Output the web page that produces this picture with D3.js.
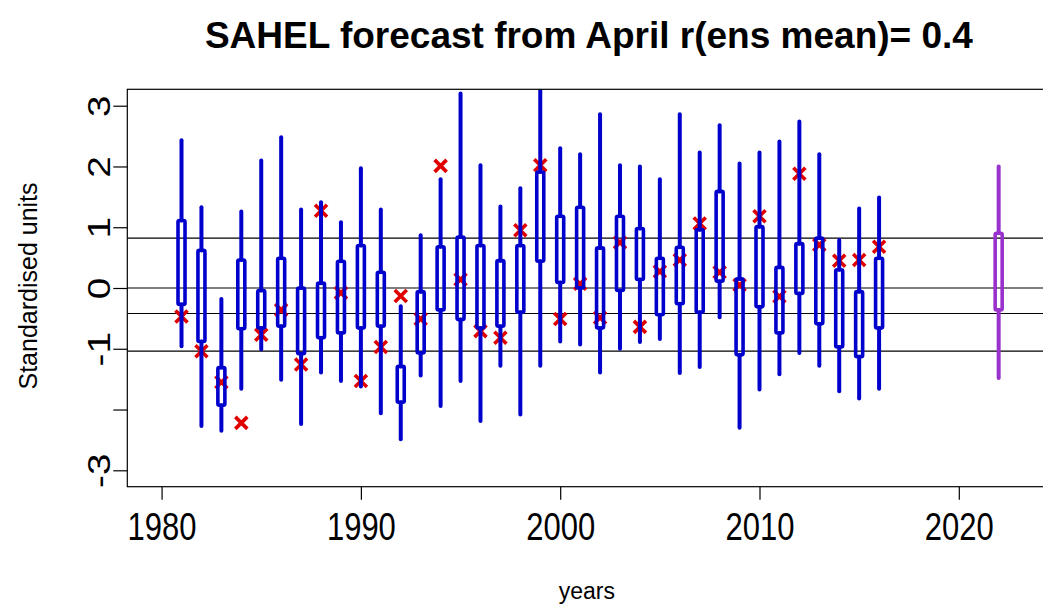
<!DOCTYPE html>
<html>
<head>
<meta charset="utf-8">
<script src="https://cdn.jsdelivr.net/npm/d3@7"></script>
<style>
  html, body { margin: 0; padding: 0; background: #fff; }
  svg { display: block; font-family: "Liberation Sans", Arial, sans-serif; }
</style>
</head>
<body>
<svg id="chart" width="1043" height="605"></svg>
<script>
// Hindcast years and ensemble summaries (standardised units)
const years      = [1981,1982,1983,1984,1985,1986,1987,1988,1989,1990,1991,1992,1993,1994,1995,1996,1997,1998,
                    1999,2000,2001,2002,2003,2004,2005,2006,2007,2008,2009,2010,2011,2012,2013,2014,2015,2016];
const ensMax     = [2.43,1.33,-0.18,1.26,2.10,2.48,1.29,1.41,1.08,1.97,1.29,-0.30,0.87,1.79,3.20,2.02,1.34,1.64,
                    3.40,2.30,2.20,2.86,2.02,2.00,1.79,2.86,2.23,2.68,2.05,2.23,2.41,2.74,2.20,0.79,1.31,1.49];
const ensUpper   = [1.11,0.62,-1.31,0.46,-0.04,0.49,0.00,0.08,0.44,0.70,0.26,-1.29,-0.06,0.68,0.84,0.70,0.45,0.70,
                    1.91,1.18,1.33,0.66,1.18,0.98,0.49,0.67,0.96,1.59,0.15,1.01,0.34,0.73,0.82,0.30,-0.06,0.49];
const ensLower   = [-0.27,-0.88,-1.93,-0.67,-0.66,-0.63,-1.08,-0.82,-0.74,-0.66,-0.63,-1.88,-1.07,-0.36,-0.52,-0.66,-0.63,-0.40,
                    0.44,0.09,0.00,-0.66,-0.04,0.14,-0.44,-0.26,-0.40,0.11,-1.10,-0.31,-0.74,-0.09,-0.59,-0.97,-1.13,-0.66];
const ensMin     = [-0.96,-2.27,-2.35,-1.66,-1.01,-1.51,-2.24,-1.39,-1.53,-1.62,-2.06,-2.49,-1.44,-1.94,-1.53,-2.19,-1.28,-2.08,
                    -1.28,-0.88,-0.93,-1.39,-1.00,-0.89,-0.84,-1.40,-1.30,-0.48,-2.30,-1.67,-1.42,-1.07,-1.28,-1.70,-1.82,-1.66];
const observed   = [-0.47,-1.04,-1.55,-2.22,-0.77,-0.36,-1.26,1.27,-0.08,-1.53,-0.97,-0.13,-0.51,2.01,0.14,-0.71,-0.82,0.95,
                    2.02,-0.51,0.07,-0.49,0.75,-0.64,0.27,0.46,1.06,0.26,0.05,1.18,-0.14,1.88,0.71,0.45,0.46,0.68];

// Real-time forecast
const forecastYear  = [2022];
const forecastMax   = [2.00];
const forecastUpper = [0.90];
const forecastLower = [-0.36];
const forecastMin   = [-1.48];

// Reference levels (category boundaries)
const refLevels = [0.82, 0.0, -0.42, -1.04];

const yTicks = [-3, -2, -1, 0, 1, 2, 3];
const yTickLabels = ["-3", "", "-1", "0", "1", "2", "3"];
const xTicks = [1980, 1990, 2000, 2010, 2020];

const titleText = "SAHEL forecast from April r(ens mean)= 0.4";
const xTitle = "years";
const yTitle = "Standardised units";

const blue = "#0000cd";
const purple = "#9932cc";
const red = "#e00000";

const plot = { left: 127.3, right: 1046.5, top: 89.3, bottom: 486.7 };

const svg = d3.select("#chart");

const x = d3.scaleLinear().domain([1978.28, 2024.4]).range([plot.left, plot.right]);
const y = d3.scaleLinear().domain([-3.27, 3.27]).range([plot.bottom, plot.top]);

svg.append("defs").append("clipPath").attr("id", "plotClip")
  .append("rect")
  .attr("x", plot.left).attr("y", plot.top)
  .attr("width", plot.right - plot.left).attr("height", plot.bottom - plot.top);

const g = svg.append("g").attr("clip-path", "url(#plotClip)");

// reference lines
g.selectAll("line.ref").data(refLevels).join("line")
  .attr("class", "ref")
  .attr("x1", plot.left).attr("x2", plot.right)
  .attr("y1", d => y(d)).attr("y2", d => y(d))
  .attr("stroke", "#000").attr("stroke-width", 1.2);

const hind = years.map((yr, i) => ({
  year: yr, max: ensMax[i], hi: ensUpper[i], lo: ensLower[i], min: ensMin[i], obs: observed[i]
}));
const fc = forecastYear.map((yr, i) => ({
  year: yr, max: forecastMax[i], hi: forecastUpper[i], lo: forecastLower[i], min: forecastMin[i]
}));

// observed values as crosses
const cs = 6;
g.selectAll("g.obs").data(hind).join("g").attr("class", "obs")
  .attr("transform", d => `translate(${x(d.year)},${y(d.obs)})`)
  .append("path")
  .attr("d", `M${-cs},${-cs}L${cs},${cs}M${-cs},${cs}L${cs},${-cs}`)
  .attr("stroke", red).attr("stroke-width", 3.6).attr("fill", "none");

function drawBoxes(data, color) {
  const grp = g.append("g");
  // whiskers above and below the box
  grp.selectAll("line.up").data(data).join("line")
    .attr("x1", d => x(d.year)).attr("x2", d => x(d.year))
    .attr("y1", d => y(d.max)).attr("y2", d => y(d.hi))
    .attr("stroke", color).attr("stroke-width", 4).attr("stroke-linecap", "round");
  grp.selectAll("line.down").data(data).join("line")
    .attr("x1", d => x(d.year)).attr("x2", d => x(d.year))
    .attr("y1", d => y(d.lo)).attr("y2", d => y(d.min))
    .attr("stroke", color).attr("stroke-width", 4).attr("stroke-linecap", "round");
  // inter-quantile box
  const bw = 7;
  grp.selectAll("rect").data(data).join("rect")
    .attr("x", d => x(d.year) - bw / 2).attr("width", bw)
    .attr("y", d => y(d.hi)).attr("height", d => y(d.lo) - y(d.hi))
    .attr("fill", "none").attr("stroke", color).attr("stroke-width", 3.6)
    .attr("stroke-linejoin", "round").attr("rx", 1.5);
}
drawBoxes(hind, blue);
drawBoxes(fc, purple);

// frame
svg.append("rect")
  .attr("x", plot.left).attr("y", plot.top)
  .attr("width", plot.right - plot.left).attr("height", plot.bottom - plot.top)
  .attr("fill", "none").attr("stroke", "#000").attr("stroke-width", 1.2);

const tickFont = 31;
const tickStretch = 1.25;

// x axis
const xAxis = svg.append("g").attr("transform", `translate(0,${plot.bottom})`)
  .call(d3.axisBottom(x).tickValues(xTicks).tickFormat(d3.format("d")).tickSize(13));
xAxis.select(".domain").remove();
xAxis.selectAll("line").attr("stroke", "#000").attr("stroke-width", 1.2);
xAxis.selectAll("text")
  .attr("font-size", tickFont).attr("fill", "#000")
  .attr("font-family", "Liberation Sans, Arial, sans-serif")
  .attr("y", 0).attr("dy", null)
  .attr("transform", `translate(0,53) scale(1,${tickStretch})`);

// y axis with labels parallel to the axis
const yAxis = svg.append("g").attr("transform", `translate(${plot.left},0)`)
  .call(d3.axisLeft(y).tickValues(yTicks).tickFormat((d, i) => yTickLabels[i]).tickSize(14));
yAxis.select(".domain").remove();
yAxis.selectAll("line").attr("stroke", "#000").attr("stroke-width", 1.2);
yAxis.selectAll("text")
  .attr("font-size", tickFont).attr("fill", "#000")
  .attr("font-family", "Liberation Sans, Arial, sans-serif")
  .attr("text-anchor", "middle")
  .attr("dy", null).attr("x", 0).attr("y", 0)
  .attr("transform", `translate(-17,0) scale(1,${tickStretch}) rotate(-90)`);

// titles
svg.append("text")
  .attr("x", (plot.left + plot.right) / 2 + 2).attr("y", 48)
  .attr("text-anchor", "middle")
  .attr("font-weight", "bold").attr("font-size", 37)
  .text(titleText);

svg.append("text")
  .attr("x", (plot.left + plot.right) / 2).attr("y", 599)
  .attr("text-anchor", "middle").attr("font-size", 23)
  .text(xTitle);

svg.append("text")
  .attr("transform", `translate(37,${(plot.top + plot.bottom) / 2 - 2}) rotate(-90)`)
  .attr("text-anchor", "middle").attr("font-size", 25)
  .text(yTitle);
</script>
</body>
</html>
